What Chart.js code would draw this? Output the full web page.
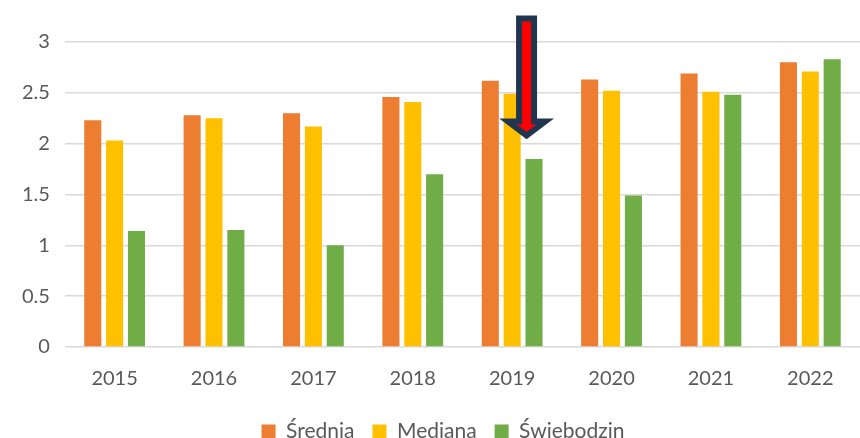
<!DOCTYPE html>
<html>
<head>
<meta charset="utf-8">
<script src="https://cdn.jsdelivr.net/npm/chart.js@4/dist/chart.umd.min.js"></script>
<style>
  html, body { margin: 0; padding: 0; background: #fff; overflow: hidden; }
  #wrap { width: 860px; height: 438px; position: relative; }
</style>
</head>
<body>
<div id="wrap"><canvas id="chart"></canvas></div>
<script>
const years = ['2015', '2016', '2017', '2018', '2019', '2020', '2021', '2022']
const srednia = [2.23, 2.28, 2.30, 2.46, 2.62, 2.63, 2.69, 2.80]
const mediana = [2.03, 2.25, 2.17, 2.41, 2.49, 2.52, 2.51, 2.71]
const swiebodzin = [1.14, 1.15, 1.00, 1.70, 1.85, 1.49, 2.48, 2.83]
const seriesNames = ['Średnia', 'Mediana', 'Świebodzin']
const seriesColors = ['#ED7D31', '#FFC000', '#70AD47']

// arrow pointing at 2019
const arrowYear = '2019'
const arrowFrom = 3.23
const arrowTo = 2.08

const fontFamily = 'Lato, "Open Sans", sans-serif'
const textColor = '#595959'

const arrowPlugin = {
    id: 'arrow',
    afterDatasetsDraw(chart) {
        const { ctx, scales: { x, y } } = chart
        const step = x.getPixelForValue(1) - x.getPixelForValue(0)
        const cx = x.getPixelForValue(years.indexOf(arrowYear)) + step * 0.145
        const top = y.getPixelForValue(arrowFrom)
        const tip = y.getPixelForValue(arrowTo)
        const headH = 14, shaftW = 7.5, headW = 18.5
        ctx.save()
        ctx.beginPath()
        ctx.moveTo(cx - shaftW, top)
        ctx.lineTo(cx + shaftW, top)
        ctx.lineTo(cx + shaftW, tip - headH)
        ctx.lineTo(cx + headW, tip - headH)
        ctx.lineTo(cx, tip)
        ctx.lineTo(cx - headW, tip - headH)
        ctx.lineTo(cx - shaftW, tip - headH)
        ctx.closePath()
        ctx.fillStyle = '#FF0000'
        ctx.fill()
        ctx.lineWidth = 6
        ctx.lineJoin = 'miter'
        ctx.strokeStyle = '#203550'
        ctx.stroke()
        ctx.restore()
    }
}

const datasets = [srednia, mediana, swiebodzin].map((values, i) => ({
    label: seriesNames[i],
    data: values,
    backgroundColor: seriesColors[i],
    borderWidth: 0,
    categoryPercentage: 0.66,
    barPercentage: 0.78
}))

new Chart(document.getElementById('chart').getContext('2d'), {
    type: 'bar',
    data: { labels: years, datasets: datasets },
    options: {
        responsive: true,
        maintainAspectRatio: false,
        animation: false,
        layout: { padding: { top: 42, right: -19, left: 7, bottom: -14 } },
        plugins: {
            legend: {
                position: 'bottom',
                labels: {
                    boxWidth: 14,
                    boxHeight: 14,
                    padding: 18,
                    color: textColor,
                    font: { family: fontFamily, size: 21 }
                }
            },
            tooltip: { enabled: false }
        },
        scales: {
            x: {
                grid: { display: false },
                border: { display: false },
                ticks: { color: textColor, font: { family: fontFamily, size: 20 }, padding: 12 }
            },
            y: {
                min: 0,
                max: 3,
                ticks: {
                    stepSize: 0.5,
                    color: textColor,
                    font: { family: fontFamily, size: 20 },
                    padding: 15,
                    callback: v => String(v)
                },
                grid: { color: '#D9D9D9', lineWidth: 1.5, drawTicks: false },
                border: { display: false }
            }
        }
    },
    plugins: [arrowPlugin]
})
</script>
</body>
</html>
